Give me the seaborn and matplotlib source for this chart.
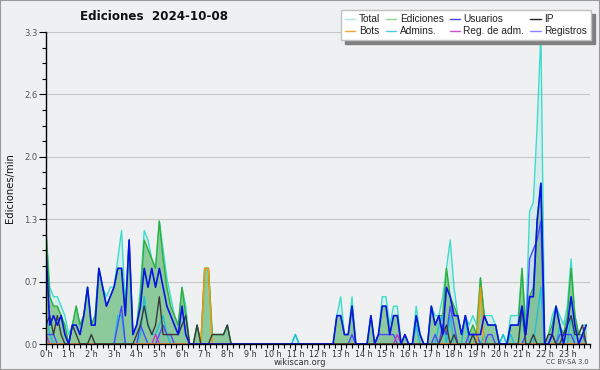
import numpy as np
import pandas as pd
import matplotlib
matplotlib.use("Agg")
import matplotlib.pyplot as plt
import seaborn as sns
from matplotlib.lines import Line2D
from matplotlib.patches import Rectangle
from matplotlib.ticker import FixedLocator, MultipleLocator

# ---------------- data (edits per minute, 10-minute bins, 6 per hour) ----------------
total = [
    1.2, 0.6, 0.5, 0.5, 0.4, 0.3,
    0.1, 0.2, 0.4, 0.2, 0.3, 0.6,
    0.2, 0.3, 0.8, 0.6, 0.5, 0.6,
    0.6, 0.9, 1.2, 0.4, 1.1, 0.1,
    0.2, 0.6, 1.2, 1.1, 0.9, 0.8,
    1.3, 1.0, 0.7, 0.5, 0.3, 0.2,
    0.6, 0.4, 0.0, 0.0, 0.2, 0.0,
    0.8, 0.8, 0.1, 0.1, 0.1, 0.1,
    0.2, 0.0, 0.0, 0.0, 0.0, 0.0,
    0.0, 0.0, 0.0, 0.0, 0.0, 0.0,
    0.0, 0.0, 0.0, 0.0, 0.0, 0.0,
    0.1, 0.0, 0.0, 0.0, 0.0, 0.0,
    0.0, 0.0, 0.0, 0.0, 0.0, 0.3,
    0.5, 0.1, 0.1, 0.5, 0.0, 0.0,
    0.0, 0.0, 0.3, 0.0, 0.1, 0.5,
    0.5, 0.2, 0.4, 0.4, 0.0, 0.1,
    0.0, 0.0, 0.4, 0.1, 0.0, 0.0,
    0.4, 0.3, 0.3, 0.5, 0.8, 1.1,
    0.6, 0.3, 0.1, 0.3, 0.2, 0.3,
    0.2, 0.7, 0.3, 0.3, 0.3, 0.2,
    0.0, 0.1, 0.0, 0.3, 0.3, 0.3,
    0.8, 0.2, 1.4, 1.5, 2.3, 3.3,
    0.0, 0.1, 0.3, 0.4, 0.3, 0.2,
    0.4, 0.9, 0.3, 0.1, 0.2, 0.2,
]
ediciones = [
    1.2, 0.5, 0.4, 0.4, 0.3, 0.2,
    0.0, 0.2, 0.4, 0.2, 0.3, 0.6,
    0.2, 0.3, 0.8, 0.6, 0.4, 0.5,
    0.6, 0.8, 0.8, 0.3, 1.1, 0.1,
    0.2, 0.5, 1.1, 1.0, 0.9, 0.8,
    1.3, 0.9, 0.6, 0.4, 0.3, 0.2,
    0.6, 0.3, 0.0, 0.0, 0.2, 0.0,
    0.8, 0.8, 0.1, 0.1, 0.1, 0.1,
    0.2, 0.0, 0.0, 0.0, 0.0, 0.0,
    0.0, 0.0, 0.0, 0.0, 0.0, 0.0,
    0.0, 0.0, 0.0, 0.0, 0.0, 0.0,
    0.0, 0.0, 0.0, 0.0, 0.0, 0.0,
    0.0, 0.0, 0.0, 0.0, 0.0, 0.3,
    0.3, 0.1, 0.1, 0.4, 0.0, 0.0,
    0.0, 0.0, 0.3, 0.0, 0.1, 0.4,
    0.4, 0.1, 0.3, 0.3, 0.0, 0.1,
    0.0, 0.0, 0.3, 0.1, 0.0, 0.0,
    0.4, 0.2, 0.3, 0.3, 0.8, 0.5,
    0.4, 0.3, 0.1, 0.3, 0.1, 0.2,
    0.1, 0.7, 0.3, 0.2, 0.2, 0.2,
    0.0, 0.0, 0.0, 0.2, 0.2, 0.2,
    0.8, 0.1, 0.5, 0.6, 1.3, 1.7,
    0.0, 0.1, 0.2, 0.4, 0.2, 0.1,
    0.3, 0.8, 0.3, 0.1, 0.1, 0.2,
]
usuarios = [
    1.0, 0.2, 0.3, 0.2, 0.3, 0.1,
    0.0, 0.2, 0.2, 0.1, 0.3, 0.6,
    0.2, 0.2, 0.8, 0.6, 0.4, 0.5,
    0.6, 0.8, 0.8, 0.3, 1.1, 0.1,
    0.2, 0.4, 0.8, 0.6, 0.8, 0.6,
    0.8, 0.6, 0.4, 0.3, 0.2, 0.1,
    0.4, 0.1, 0.0, 0.0, 0.0, 0.0,
    0.0, 0.0, 0.0, 0.0, 0.0, 0.0,
    0.0, 0.0, 0.0, 0.0, 0.0, 0.0,
    0.0, 0.0, 0.0, 0.0, 0.0, 0.0,
    0.0, 0.0, 0.0, 0.0, 0.0, 0.0,
    0.0, 0.0, 0.0, 0.0, 0.0, 0.0,
    0.0, 0.0, 0.0, 0.0, 0.0, 0.3,
    0.3, 0.1, 0.1, 0.4, 0.0, 0.0,
    0.0, 0.0, 0.3, 0.0, 0.1, 0.4,
    0.4, 0.1, 0.3, 0.3, 0.0, 0.1,
    0.0, 0.0, 0.3, 0.1, 0.0, 0.0,
    0.4, 0.2, 0.3, 0.1, 0.6, 0.5,
    0.3, 0.3, 0.1, 0.3, 0.1, 0.1,
    0.1, 0.1, 0.3, 0.2, 0.2, 0.2,
    0.0, 0.0, 0.0, 0.2, 0.2, 0.2,
    0.4, 0.1, 0.5, 0.5, 1.3, 1.7,
    0.0, 0.0, 0.1, 0.4, 0.2, 0.0,
    0.2, 0.5, 0.2, 0.0, 0.1, 0.2,
]
ip = [
    0.2, 0.3, 0.1, 0.3, 0.1, 0.0,
    0.0, 0.2, 0.1, 0.0, 0.0, 0.0,
    0.1, 0.0, 0.0, 0.0, 0.0, 0.0,
    0.0, 0.0, 0.0, 0.0, 0.0, 0.0,
    0.1, 0.2, 0.4, 0.2, 0.1, 0.2,
    0.5, 0.1, 0.1, 0.1, 0.1, 0.1,
    0.2, 0.3, 0.0, 0.0, 0.2, 0.0,
    0.0, 0.0, 0.1, 0.1, 0.1, 0.1,
    0.2, 0.0, 0.0, 0.0, 0.0, 0.0,
    0.0, 0.0, 0.0, 0.0, 0.0, 0.0,
    0.0, 0.0, 0.0, 0.0, 0.0, 0.0,
    0.0, 0.0, 0.0, 0.0, 0.0, 0.0,
    0.0, 0.0, 0.0, 0.0, 0.0, 0.0,
    0.0, 0.0, 0.0, 0.0, 0.0, 0.0,
    0.0, 0.0, 0.0, 0.0, 0.0, 0.0,
    0.0, 0.0, 0.0, 0.0, 0.0, 0.0,
    0.0, 0.0, 0.0, 0.0, 0.0, 0.0,
    0.0, 0.0, 0.0, 0.1, 0.2, 0.0,
    0.1, 0.0, 0.0, 0.0, 0.0, 0.1,
    0.0, 0.0, 0.0, 0.0, 0.0, 0.0,
    0.0, 0.0, 0.0, 0.0, 0.0, 0.0,
    0.4, 0.0, 0.0, 0.1, 0.0, 0.0,
    0.0, 0.1, 0.1, 0.0, 0.0, 0.1,
    0.2, 0.3, 0.1, 0.1, 0.2, 0.0,
]
bots = [0.0] * 144
bots[42] = 0.8
bots[43] = 0.8
bots[115] = 0.6
admins = [
    0.3, 0.1, 0.0, 0.0, 0.0, 0.0,
    0.0, 0.0, 0.0, 0.0, 0.0, 0.0,
    0.0, 0.0, 0.0, 0.0, 0.0, 0.0,
    0.0, 0.3, 0.3, 0.0, 0.0, 0.0,
    0.0, 0.1, 0.5, 0.2, 0.1, 0.1,
    0.2, 0.3, 0.1, 0.0, 0.0, 0.0,
    0.0, 0.0, 0.0, 0.0, 0.0, 0.0,
    0.0, 0.0, 0.0, 0.0, 0.0, 0.0,
    0.0, 0.0, 0.0, 0.0, 0.0, 0.0,
    0.0, 0.0, 0.0, 0.0, 0.0, 0.0,
    0.0, 0.0, 0.0, 0.0, 0.0, 0.0,
    0.1, 0.0, 0.0, 0.0, 0.0, 0.0,
    0.0, 0.0, 0.0, 0.0, 0.0, 0.0,
    0.0, 0.0, 0.0, 0.0, 0.0, 0.0,
    0.0, 0.0, 0.0, 0.0, 0.0, 0.0,
    0.0, 0.0, 0.0, 0.0, 0.0, 0.0,
    0.0, 0.0, 0.2, 0.0, 0.0, 0.0,
    0.0, 0.0, 0.2, 0.3, 0.0, 0.3,
    0.0, 0.0, 0.0, 0.3, 0.0, 0.0,
    0.0, 0.0, 0.1, 0.0, 0.0, 0.0,
    0.0, 0.1, 0.0, 0.1, 0.0, 0.0,
    0.3, 0.0, 0.0, 0.0, 0.3, 0.6,
    0.0, 0.0, 0.0, 0.0, 0.2, 0.0,
    0.0, 0.3, 0.0, 0.0, 0.0, 0.0,
]
reg_adm = [0.0] * 144
reg_adm[0] = 0.1
reg_adm[29] = 0.1
reg_adm[93] = 0.1
registros = [
    0.1, 0.1, 0.1, 0.0, 0.0, 0.0,
    0.0, 0.0, 0.0, 0.0, 0.0, 0.0,
    0.0, 0.0, 0.0, 0.0, 0.0, 0.0,
    0.0, 0.2, 0.4, 0.0, 0.0, 0.0,
    0.0, 0.2, 0.1, 0.0, 0.0, 0.0,
    0.1, 0.2, 0.1, 0.1, 0.0, 0.0,
    0.0, 0.0, 0.0, 0.0, 0.0, 0.0,
    0.0, 0.0, 0.0, 0.0, 0.0, 0.0,
    0.0, 0.0, 0.0, 0.0, 0.0, 0.0,
    0.0, 0.0, 0.0, 0.0, 0.0, 0.0,
    0.0, 0.0, 0.0, 0.0, 0.0, 0.0,
    0.0, 0.0, 0.0, 0.0, 0.0, 0.0,
    0.0, 0.0, 0.0, 0.0, 0.0, 0.0,
    0.0, 0.0, 0.0, 0.1, 0.0, 0.0,
    0.0, 0.0, 0.0, 0.0, 0.1, 0.1,
    0.1, 0.1, 0.1, 0.0, 0.0, 0.0,
    0.0, 0.0, 0.0, 0.0, 0.0, 0.0,
    0.0, 0.1, 0.0, 0.2, 0.1, 0.4,
    0.2, 0.0, 0.0, 0.0, 0.1, 0.1,
    0.1, 0.0, 0.0, 0.1, 0.1, 0.0,
    0.0, 0.0, 0.0, 0.0, 0.0, 0.0,
    0.0, 0.1, 0.9, 1.0, 1.1, 1.3,
    0.0, 0.0, 0.1, 0.0, 0.1, 0.1,
    0.1, 0.1, 0.0, 0.0, 0.1, 0.0,
]

legend_order = ["Total", "Ediciones", "Usuarios", "IP",
                "Bots", "Admins.", "Reg. de adm.", "Registros"]
hour_labels = [f"{h} h" for h in range(24)]
y_ticks = [0.0, 0.66, 1.32, 1.98, 2.64, 3.3]
y_tick_labels = ["0.0", "0.7", "1.3", "2.0", "2.6", "3.3"]

colors = {
    "Total": "#3fdccc",
    "Ediciones": "#2fae3a",
    "Usuarios": "#0a14e6",
    "IP": "#3a3a3a",
    "Bots": "#ff9400",
    "Admins.": "#1cc0dc",
    "Reg. de adm.": "#cc33cc",
    "Registros": "#4a4aff",
}

hours = np.arange(len(total)) / 6.0
df = pd.DataFrame({
    "hora": hours,
    "Total": total, "Ediciones": ediciones, "Usuarios": usuarios, "IP": ip,
    "Bots": bots, "Admins.": admins, "Reg. de adm.": reg_adm, "Registros": registros,
})
long = df.melt(id_vars="hora", var_name="serie", value_name="valor")

# ---------------- figure ----------------
sns.set_theme(style="white")
plt.rcParams["font.family"] = ["DejaVu Sans"]

BG = "#eef0f2"
fig = plt.figure(figsize=(6, 3.7), dpi=100, facecolor=BG)
ax = fig.add_axes([46 / 600, 26 / 370, 544 / 600, 312 / 370])
ax.set_facecolor(BG)

# filled areas
ax.fill_between(df["hora"], df["Total"], color="#40e0d0", alpha=0.14, lw=0, zorder=1)
ax.fill_between(df["hora"], df["Registros"], color="#6a6aff", alpha=0.12, lw=0, zorder=1.1)
ax.fill_between(df["hora"], df["Ediciones"], color="#46a84a", alpha=0.5, lw=0, zorder=1.2)

draw_order = ["Total", "Ediciones", "Admins.", "Registros", "Reg. de adm.", "Bots", "IP"]
sns.lineplot(data=long[long["serie"].isin(draw_order)], x="hora", y="valor",
             hue="serie", hue_order=draw_order, palette=colors,
             estimator=None, linewidth=1.0, legend=False, ax=ax, zorder=2)
sns.lineplot(data=long[long["serie"] == "Usuarios"], x="hora", y="valor",
             color=colors["Usuarios"], estimator=None, linewidth=1.2,
             legend=False, ax=ax, zorder=3)

# axes styling
ax.set_xlim(0, 24)
ax.set_ylim(0, 3.3)
ax.set_xlabel("")
ax.set_ylabel("")
for s in ["top", "right"]:
    ax.spines[s].set_visible(False)
for s in ["left", "bottom"]:
    ax.spines[s].set_color("black")
    ax.spines[s].set_linewidth(1.0)
    ax.spines[s].set_zorder(5)

ax.xaxis.set_major_locator(FixedLocator(list(range(24))))
ax.set_xticklabels(hour_labels)
ax.xaxis.set_minor_locator(MultipleLocator(0.25))
ax.yaxis.set_major_locator(FixedLocator(y_ticks))
ax.set_yticklabels(y_tick_labels)
ax.yaxis.set_minor_locator(MultipleLocator(0.165))
ax.tick_params(axis="x", which="major", length=4, width=0.8, color="black",
               labelsize=5.8, labelcolor="#333333", pad=0.5, direction="out", bottom=True)
ax.tick_params(axis="x", which="minor", length=3, width=0.8, color="black", bottom=True)
ax.tick_params(axis="y", which="major", length=5, width=0.8, color="black",
               labelsize=6, labelcolor="#555555", pad=1, direction="out", left=True)
ax.tick_params(axis="y", which="minor", length=3, width=0.8, color="black", left=True)
ax.yaxis.grid(True, which="major", color="#c6c6c6", lw=0.8)
ax.set_axisbelow(True)

# texts
fig.text(154 / 600, 1 - 17 / 370, "Ediciones  2024-10-08", ha="center", va="center",
         fontsize=8.6, fontweight="bold", color="#111111")
fig.text(10 / 600, 1 - 188 / 370, "Ediciones/min", rotation=90, ha="center",
         va="center", fontsize=7.2, color="#111111")
fig.text(300 / 600, 1 - 362.5 / 370, "wikiscan.org", ha="center", va="center",
         fontsize=6, color="#333333")
fig.text(589 / 600, 1 - 362.5 / 370, "CC BY-SA 3.0", ha="right", va="center",
         fontsize=4.8, color="#444444")

# legend (4 columns x 2 rows, filled column-wise)
legend_colors = {
    "Total": "#a8e6e2", "Ediciones": "#8fd48f", "Usuarios": "#4848e0", "IP": "#222222",
    "Bots": "#f5a33a", "Admins.": "#4cc8e0", "Reg. de adm.": "#d050d0", "Registros": "#8585ff",
}
col_order = [legend_order[i] for i in (0, 4, 1, 5, 2, 6, 3, 7)]
handles = [Line2D([0], [0], color=legend_colors[n], lw=1.0) for n in col_order]
leg = fig.legend(handles, col_order, ncol=4, loc="upper right",
                 bbox_to_anchor=(591 / 600, 1 - 10 / 370),
                 prop={"family": ["Liberation Sans", "DejaVu Sans"], "size": 7.3},
                 frameon=True, fancybox=False, edgecolor="#c0c0c0", facecolor="white",
                 framealpha=1, shadow={"color": "#808080", "alpha": 1, "ox": 3, "oy": -3},
                 handlelength=1.0, handletextpad=0.35, columnspacing=0.6,
                 labelspacing=0.2, borderpad=0.4, borderaxespad=0)
for t in leg.get_texts():
    t.set_color("#222222")

fig.patches.append(Rectangle((0, 0), 1, 1, transform=fig.transFigure, fill=False,
                             edgecolor="#9a9a9a", lw=1.5))

fig.savefig("out.png", dpi=100, facecolor=BG)
